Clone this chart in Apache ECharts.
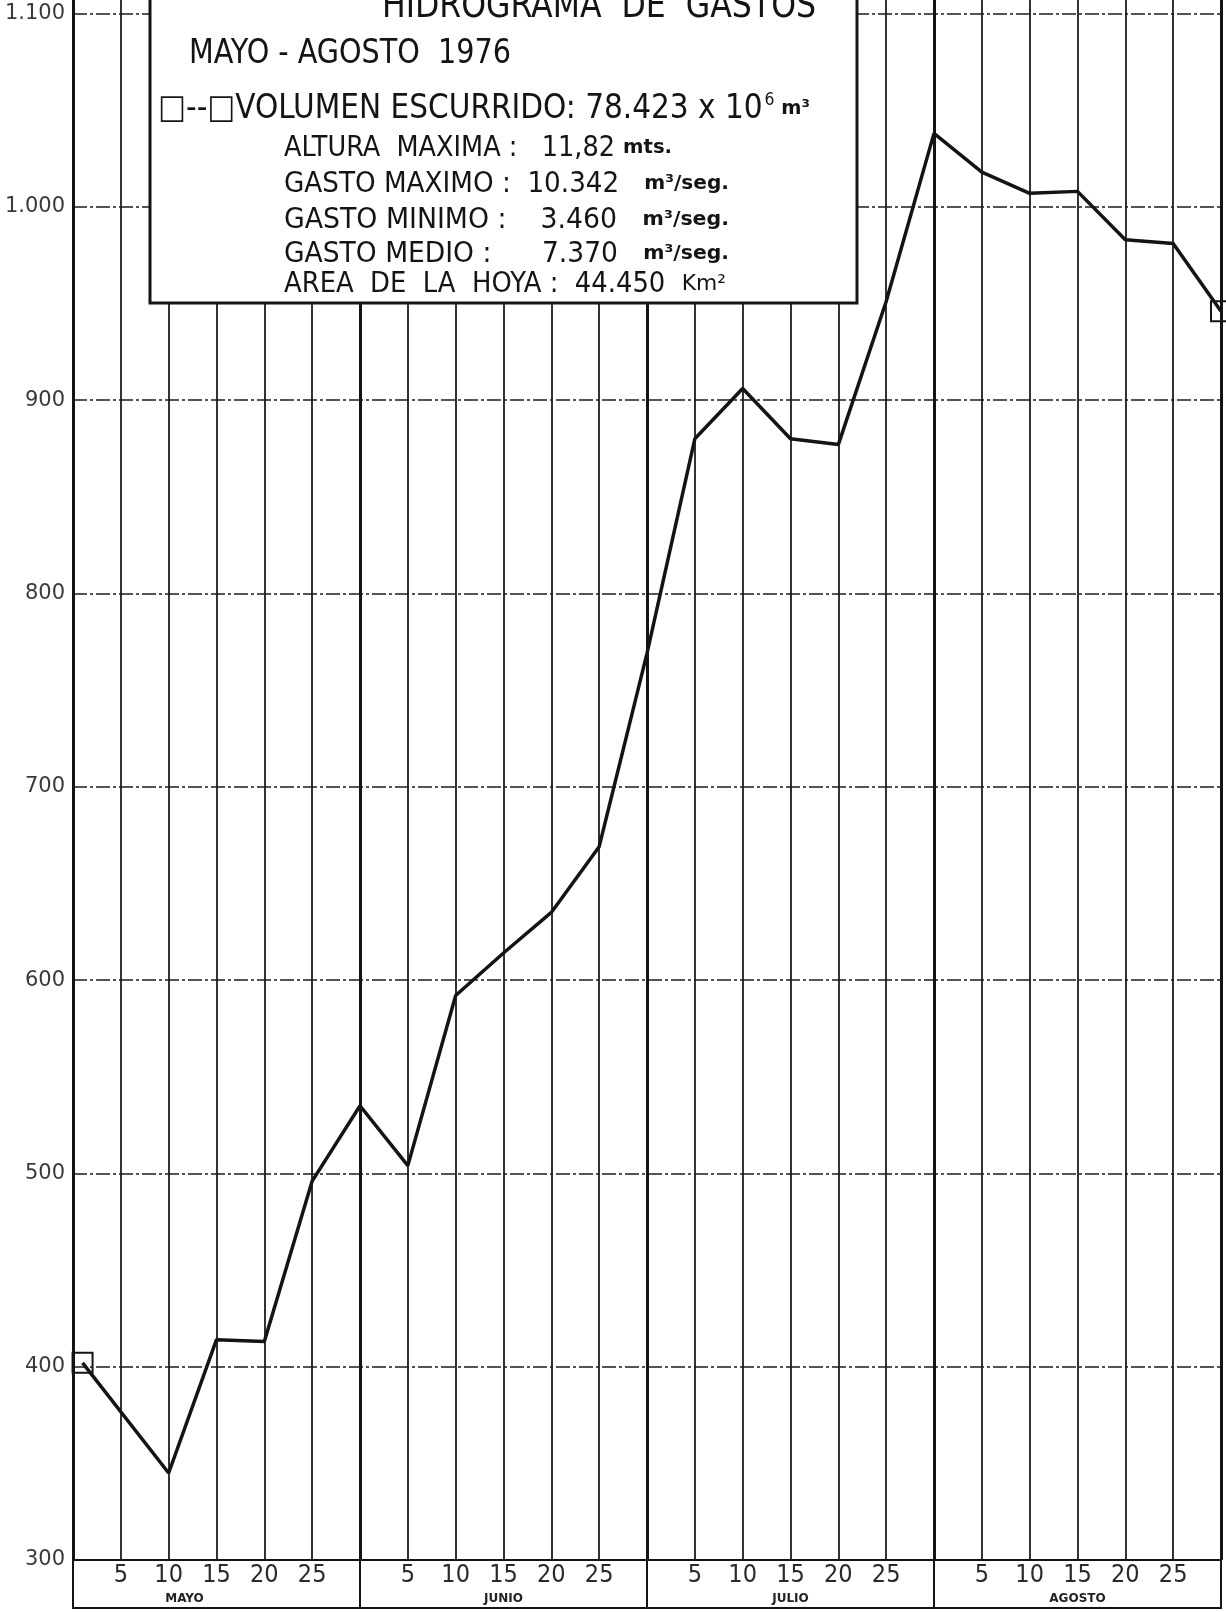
<!DOCTYPE html>
<html>
<head>
<meta charset="utf-8">
<script src="https://cdn.jsdelivr.net/npm/echarts@6/dist/echarts.min.js"></script>
<style>
  html, body { margin: 0; padding: 0; background: #fff; }
  #chart { width: 1226px; height: 1612px; }
</style>
</head>
<body>
<div id="chart"></div>
<script>
// posicion en la escala: cada mes = 6 divisiones (5,10,15,20,25, fin de mes)
const pos = [0.2, 2, 3, 4, 5, 6, 7, 8, 9, 10, 11, 12, 13, 14, 15, 16, 17, 18, 19, 20, 21, 22, 23, 24]
const gasto = [402, 345, 414, 413, 496, 535, 504, 592, 614, 635, 669, 769, 880, 906, 880, 877, 951, 1038, 1018, 1007, 1008, 983, 981, 946]
const dias = ['5', '10', '15', '20', '25']
const meses = ['MAYO', 'JUNIO', 'JULIO', 'AGOSTO']
const yMin = 300
const yMax = 1107 // el papel sigue por encima de 1.100

const chart = echarts.init(document.getElementById('chart'))

const lettering = '"DejaVu Sans Condensed"'
const ink = '#141414'

// estrecha un renglon para que ocupe el ancho del rotulo original
const ctx = document.createElement('canvas').getContext('2d')
function fit (parts, width) {
  let w = 0
  parts.forEach(p => {
    ctx.font = p[1]
    w += ctx.measureText(p[0]).width
  })
  return width / w
}

function rotulo (x, y, main, unit, mainFont, unitFont, width) {
  return {
    type: 'text',
    z: 101,
    x: x,
    y: y,
    scaleX: fit([[main, mainFont], [unit, unitFont]], width),
    style: {
      text: '{a|' + main + '}{u|' + unit + '}',
      textVerticalAlign: 'middle',
      rich: {
        a: { font: mainFont, fill: ink },
        u: { font: unitFont, fill: ink }
      }
    }
  }
}

let data = pos.map((p, i) => {
  let item = { value: [p, gasto[i]] }
  // cuadritos solo al inicio y al final
  if (i === 0 || i === pos.length - 1) {
    item.symbol = 'rect'
    item.symbolSize = 20
  }
  return item
})

const fTitle = '38px ' + lettering
const fBig = '33px ' + lettering
const fVol = '34px ' + lettering
const fTxt = '29px ' + lettering
const fUnit = 'bold 20px "DejaVu Sans"'

let Option = {
  backgroundColor: '#fff',
  animation: false,
  grid: {
    left: 73,
    right: 5,
    top: 0,
    bottom: 52
  },
  xAxis: [
    {
      type: 'value',
      min: 0,
      max: 24,
      interval: 1,
      axisLine: {
        show: true,
        lineStyle: { color: ink, width: 2, type: [14, 3, 3, 3] }
      },
      axisTick: { show: false },
      splitLine: {
        show: true,
        lineStyle: { color: '#1c1c1c', width: 1.8 }
      },
      axisLabel: {
        margin: 3,
        color: '#2a2a2a',
        fontFamily: 'DejaVu Sans Condensed',
        fontSize: 25,
        formatter: v => {
          let k = Math.round(v) % 6
          return k === 0 ? '' : dias[k - 1]
        }
      }
    },
    {
      // divisiones de mes
      type: 'value',
      min: 0,
      max: 24,
      interval: 6,
      position: 'bottom',
      axisLine: { show: false },
      axisTick: {
        show: true,
        length: 48,
        lineStyle: { color: ink, width: 2 }
      },
      splitLine: {
        show: true,
        lineStyle: { color: ink, width: 3 }
      },
      axisLabel: { show: false }
    },
    {
      // nombres de los meses
      type: 'value',
      min: 0,
      max: 24,
      interval: 1,
      position: 'bottom',
      axisLine: { show: false },
      axisTick: { show: false },
      splitLine: { show: false },
      axisLabel: {
        margin: 33,
        color: '#222',
        fontFamily: 'DejaVu Sans',
        fontWeight: 'bold',
        fontSize: 12,
        rich: {
          m: {},
          m0: { padding: [0, 64, 0, 0] }
        },
        formatter: v => {
          let k = Math.round(v)
          if (k % 6 !== 3) return ''
          let i = (k - 3) / 6
          return i === 0 ? '{m0|' + meses[i] + '}' : '{m|' + meses[i] + '}'
        }
      }
    }
  ],
  yAxis: {
    type: 'value',
    min: yMin,
    max: yMax,
    interval: 100,
    axisLine: {
      show: true,
      lineStyle: { color: ink, width: 3 }
    },
    axisTick: { show: false },
    splitLine: {
      show: true,
      showMaxLine: false,
      lineStyle: { color: '#1c1c1c', width: 1.5, type: [14, 3, 3, 3] }
    },
    axisLabel: {
      margin: 8,
      color: '#3a3a3a',
      fontFamily: 'DejaVu Sans',
      fontSize: 21,
      showMaxLabel: false,
      formatter: v => {
        if (v % 100 !== 0) return ''
        return String(v).replace(/(\d)(\d{3})$/, '$1.$2')
      }
    }
  },
  series: [
    {
      type: 'line',
      xAxisIndex: 0,
      data: data,
      symbol: 'none',
      showSymbol: true,
      showAllSymbol: true,
      silent: true,
      z: 10,
      lineStyle: { color: ink, width: 3.5 },
      itemStyle: {
        color: 'rgba(255,255,255,0)',
        borderColor: ink,
        borderWidth: 2
      }
    }
  ],
  graphic: [
    {
      // recuadro de la leyenda
      type: 'rect',
      z: 100,
      shape: { x: 150, y: -10, width: 707, height: 313 },
      style: { fill: '#fff', stroke: ink, lineWidth: 3 }
    },
    {
      type: 'text', z: 101, x: 382, y: 26,
      scaleX: fit([['HIDROGRAMA  DE  GASTOS', fTitle]], 434),
      style: { text: 'HIDROGRAMA  DE  GASTOS', font: fTitle, fill: ink, textVerticalAlign: 'bottom' }
    },
    {
      type: 'text', z: 101, x: 189, y: 54,
      scaleX: fit([['MAYO - AGOSTO  1976', fBig]], 322),
      style: { text: 'MAYO - AGOSTO  1976', font: fBig, fill: ink, textVerticalAlign: 'middle' }
    },
    {
      type: 'text', z: 101, x: 158, y: 109,
      scaleX: fit([['□--□VOLUMEN ESCURRIDO: 78.423 x 10', fVol], ['6', '18px ' + lettering], [' m³', fUnit]], 650),
      style: {
        text: '{a|□--□VOLUMEN ESCURRIDO: 78.423 x 10}{s|6}{u| m³}',
        textVerticalAlign: 'middle',
        rich: {
          a: { font: fVol, fill: ink },
          s: { font: '18px ' + lettering, fill: ink, padding: [0, 0, 18, 2] },
          u: { font: fUnit, fill: ink }
        }
      }
    },
    rotulo(284, 148, 'ALTURA  MAXIMA :   11,82 ', 'mts.', fTxt, fUnit, 388),
    rotulo(284, 184, 'GASTO MAXIMO :  10.342   ', 'm³/seg.', fTxt, fUnit, 445),
    rotulo(284, 220, 'GASTO MINIMO :    3.460   ', 'm³/seg.', fTxt, fUnit, 445),
    rotulo(284, 254, 'GASTO MEDIO :      7.370   ', 'm³/seg.', fTxt, fUnit, 445),
    rotulo(284, 284, 'AREA  DE  LA  HOYA :  44.450  ', 'Km²', fTxt, '22px "DejaVu Sans"', 442),
    {
      // caja de las etiquetas del eje x
      type: 'rect',
      z: 5,
      shape: { x: 73, y: 1560, width: 1148, height: 48 },
      style: { fill: 'none', stroke: ink, lineWidth: 2 }
    }
  ]
}

chart.setOption(Option)
</script>
</body>
</html>
